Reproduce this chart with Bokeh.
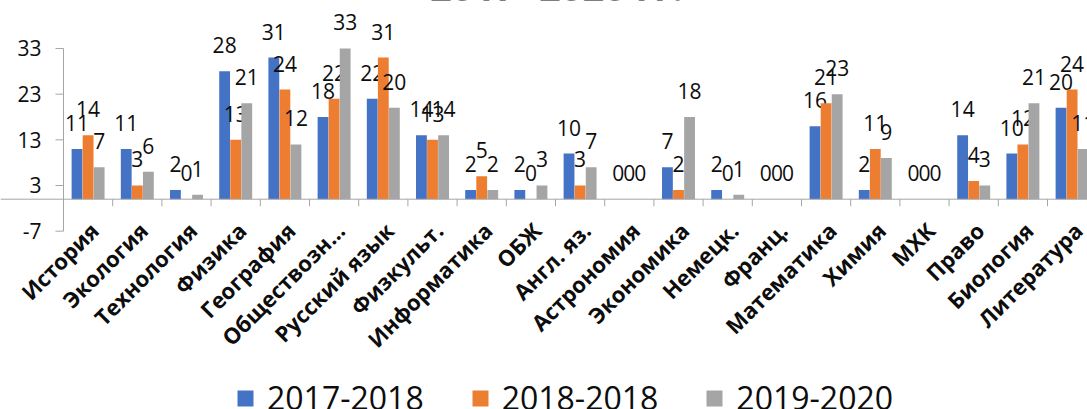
import numpy as np
from bokeh.plotting import figure
from bokeh.models import (Range1d, Span, Legend, LegendItem, ColumnDataSource)
from bokeh.core.properties import value
from bokeh.embed import file_html
from bokeh.resources import INLINE

title_text = "2017- 2020 гг."
subjects = ["История", "Экология", "Технология", "Физика", "География", "Обществозн…",
            "Русский язык", "Физкульт.", "Информатика", "ОБЖ", "Англ. яз.", "Астрономия",
            "Экономика", "Немецк.", "Франц.", "Математика", "Химия", "МХК", "Право",
            "Биология", "Литература"]
series_names = ["2017-2018", "2018-2018", "2019-2020"]
y2017 = [11, 11, 2, 28, 31, 18, 22, 14, 2, 2, 10, 0, 7, 2, 0, 16, 2, 0, 14, 10, 20]
y2018 = [14, 3, 0, 13, 24, 22, 31, 13, 5, 0, 3, 0, 2, 0, 0, 21, 11, 0, 4, 12, 24]
y2019 = [7, 6, 1, 21, 12, 33, 20, 14, 2, 3, 7, 0, 18, 1, 0, 23, 9, 0, 3, 21, 11]
y_ticks = [-7, 3, 13, 23, 33]

colors = ["#4472C4", "#ED7D31", "#A5A5A5"]
offsets = [-0.225, 0.0, 0.225]
bar_w = 0.22
FONT = "Open Sans"
TXT = "#0d0d0d"
AXIS = "#a6a6a6"
PX_X = 49.2     # px per category
PX_Y = 4.567    # px per unit
ZERO_Y = 198.7  # screen y of value 0

W, H = 1087, 409
LEFT = 63
n = len(subjects)
centers = np.arange(n) + 0.5
y_lo, y_hi = -7, 33

p = figure(width=W, height=H, output_backend="svg", toolbar_location=None,
           x_range=Range1d(-LEFT / PX_X, (W - LEFT) / PX_X),
           y_range=Range1d(-(H - ZERO_Y) / PX_Y, ZERO_Y / PX_Y),
           x_axis_location=None, y_axis_location=None,
           min_border_left=0, min_border_right=0, min_border_top=0, min_border_bottom=0)
p.outline_line_color = None
p.xgrid.visible = False
p.ygrid.visible = False

# value axis (line, ticks, labels)
p.segment(x0=[0], y0=[y_lo], x1=[0], y1=[y_hi], line_color=AXIS, line_width=1)
tk = np.array(y_ticks, dtype=float)
p.segment(x0=np.zeros(len(tk)), y0=tk, x1=np.full(len(tk), -8 / PX_X), y1=tk,
          line_color=AXIS, line_width=1)
p.text(x=np.zeros(len(tk)), y=tk, text=[str(t) for t in y_ticks], x_offset=-22,
       text_align="right", text_baseline="middle", text_font=value(FONT),
       text_font_size="21px", text_color=TXT)

# zero line and category separators
p.add_layout(Span(location=0, dimension="width", line_color=AXIS, line_width=1))
bx = np.arange(1, n + 1)
p.segment(x0=bx, y0=np.zeros(n), x1=bx, y1=np.full(n, -7 / PX_Y), line_color=AXIS, line_width=1)

# bars and data labels
renderers = []
for vals, col, off in zip([y2017, y2018, y2019], colors, offsets):
    src = ColumnDataSource(dict(x=centers + off, top=vals, lab=[str(v) for v in vals]))
    r = p.vbar(x="x", top="top", bottom=0, width=bar_w, source=src,
               fill_color=col, line_color=None)
    renderers.append(r)
    p.text(x="x", y="top", text="lab", source=src, text_align="center",
           text_baseline="middle", y_offset=-26, text_font=value(FONT),
           text_font_size="21px", text_color=TXT)

# category labels, rotated
p.text(x=centers + 6 / PX_X, y=np.full(n, float(y_lo)), text=subjects, y_offset=-5,
       angle=np.pi / 4, text_align="right", text_baseline="middle",
       text_font=value(FONT), text_font_style="bold", text_font_size="22px", text_color=TXT)

# partially visible title at the top edge (anchor kept inside the frame)
p.text(x=[n / 2 - 0.48], y=[(ZERO_Y - 1) / PX_Y], text=[title_text], y_offset=-16,
       text_align="center", text_baseline="middle", text_font=value(FONT),
       text_font_style="bold", text_font_size="38px", text_color=TXT)

legend = Legend(items=[LegendItem(label=nm, renderers=[r]) for nm, r in zip(series_names, renderers)],
                location=(235, -10), orientation="horizontal", padding=0, margin=0,
                spacing=46, label_standoff=12, glyph_width=20, glyph_height=20,
                border_line_color=None, background_fill_alpha=0,
                label_text_font=FONT, label_text_font_size="32px", label_text_color=TXT)
p.add_layout(legend, "center")

open("out.html", "w").write(file_html(p, INLINE))
